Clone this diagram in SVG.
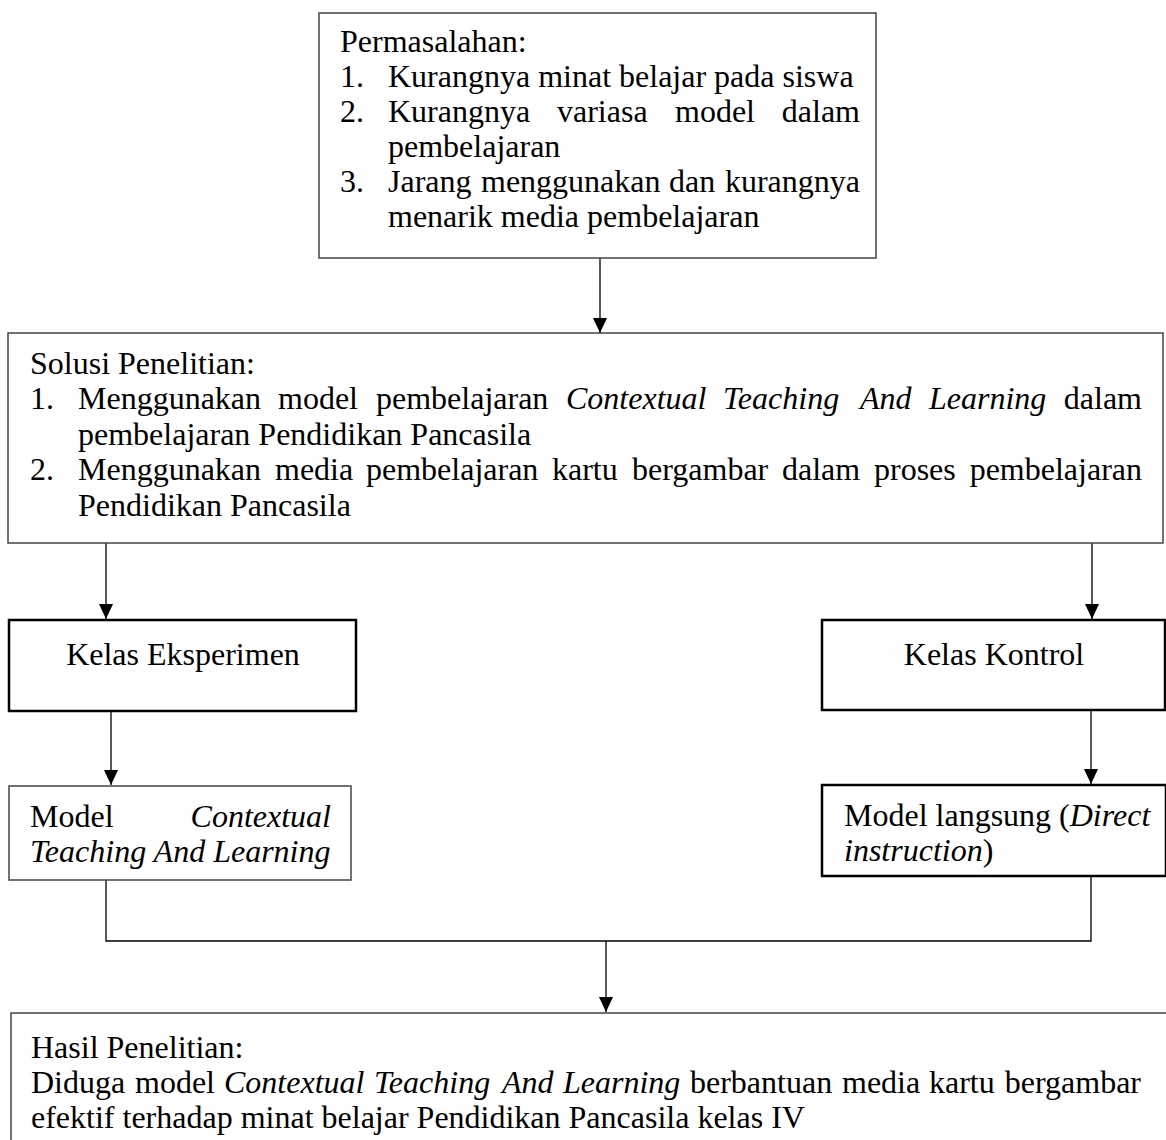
<svg xmlns="http://www.w3.org/2000/svg" width="1166" height="1140" viewBox="0 0 1166 1140">
<style>
text{font-family:"Liberation Serif","Times New Roman",serif;font-size:32px;fill:#000}
.i{font-style:italic}
.thin{fill:#fff;stroke:#444;stroke-width:1.5}
.thick{fill:#fff;stroke:#000;stroke-width:2.5}
.c{fill:none;stroke:#000;stroke-width:1.3}
</style>
<defs>
<marker id="ah" viewBox="0 0 15 14" refX="15" refY="7" markerWidth="15" markerHeight="14" markerUnits="userSpaceOnUse" orient="auto">
<path d="M0,0 L15,7 L0,14 Z" fill="#000"/>
</marker>
</defs>
<rect width="1166" height="1140" fill="#fff"/>
<g id="connectors">
<line class="c" x1="600" y1="258" x2="600" y2="333" marker-end="url(#ah)"/>
<line class="c" x1="106" y1="543" x2="106" y2="619" marker-end="url(#ah)"/>
<line class="c" x1="1092" y1="543" x2="1092" y2="619" marker-end="url(#ah)"/>
<line class="c" x1="111" y1="711" x2="111" y2="785" marker-end="url(#ah)"/>
<line class="c" x1="1091" y1="710" x2="1091" y2="784" marker-end="url(#ah)"/>
<path class="c" d="M106 880 V941 H1091 V876"/>
<line class="c" x1="606" y1="941" x2="606" y2="1012" marker-end="url(#ah)"/>
</g>
<g id="permasalahan">
<rect class="thin" x="319" y="13" width="557" height="245"/>
<text x="340" y="52">Permasalahan:</text>
<text x="340" y="87">1.</text><text x="388" y="87">Kurangnya minat belajar pada siswa</text>
<text x="340" y="122">2.</text>
<text y="122"><tspan x="388">Kurangnya</tspan><tspan x="557">variasa</tspan><tspan x="675">model</tspan></text>
<text x="860" y="122" text-anchor="end">dalam</text>
<text x="388" y="157">pembelajaran</text>
<text x="340" y="192">3.</text>
<text y="192"><tspan x="388">Jarang</tspan><tspan x="481">menggunakan</tspan><tspan x="669">dan</tspan></text>
<text x="860" y="192" text-anchor="end">kurangnya</text>
<text x="388" y="227">menarik media pembelajaran</text>
</g>
<g id="solusi">
<rect class="thin" x="8" y="333" width="1155" height="210"/>
<text x="30" y="374">Solusi Penelitian:</text>
<text x="30" y="409">1.</text>
<text y="409"><tspan x="78">Menggunakan</tspan><tspan x="278">model</tspan><tspan x="376">pembelajaran</tspan><tspan x="566" class="i">Contextual</tspan><tspan x="723" class="i">Teaching</tspan><tspan x="860" class="i">And</tspan><tspan x="929" class="i">Learning</tspan></text>
<text x="1142" y="409" text-anchor="end">dalam</text>
<text x="78" y="445">pembelajaran Pendidikan Pancasila</text>
<text x="30" y="480">2.</text>
<text y="480"><tspan x="78">Menggunakan</tspan><tspan x="275">media</tspan><tspan x="366">pembelajaran</tspan><tspan x="552">kartu</tspan><tspan x="632">bergambar</tspan><tspan x="782">dalam</tspan><tspan x="874">proses</tspan></text>
<text x="1142" y="480" text-anchor="end">pembelajaran</text>
<text x="78" y="516">Pendidikan Pancasila</text>
</g>
<g id="kelas-eksperimen">
<rect class="thick" x="9" y="620" width="347" height="91"/>
<text x="183" y="665" text-anchor="middle">Kelas Eksperimen</text>
</g>
<g id="kelas-kontrol">
<rect class="thick" x="822" y="620" width="343" height="90"/>
<text x="994" y="665" text-anchor="middle">Kelas Kontrol</text>
</g>
<g id="model-ctl">
<rect class="thin" x="9" y="786" width="342" height="94"/>
<text x="30" y="827">Model</text>
<text x="331" y="827" text-anchor="end" class="i">Contextual</text>
<text x="30" y="862" class="i">Teaching And Learning</text>
</g>
<g id="model-langsung">
<rect class="thick" x="822" y="785" width="344" height="91"/>
<text x="844" y="826">Model langsung (<tspan class="i">Direct</tspan></text>
<text x="844" y="861"><tspan class="i">instruction</tspan>)</text>
</g>
<g id="hasil">
<rect class="thin" x="11" y="1013" width="1170" height="140"/>
<text x="31" y="1058">Hasil Penelitian:</text>
<text y="1093"><tspan x="31">Diduga</tspan><tspan x="135">model</tspan><tspan x="224" class="i">Contextual</tspan><tspan x="374" class="i">Teaching</tspan><tspan x="502" class="i">And</tspan><tspan x="563" class="i">Learning</tspan><tspan x="690">berbantuan</tspan><tspan x="842">media</tspan><tspan x="929">kartu</tspan></text>
<text x="1141" y="1093" text-anchor="end">bergambar</text>
<text x="31" y="1128">efektif terhadap minat belajar Pendidikan Pancasila kelas IV</text>
</g>
</svg>
